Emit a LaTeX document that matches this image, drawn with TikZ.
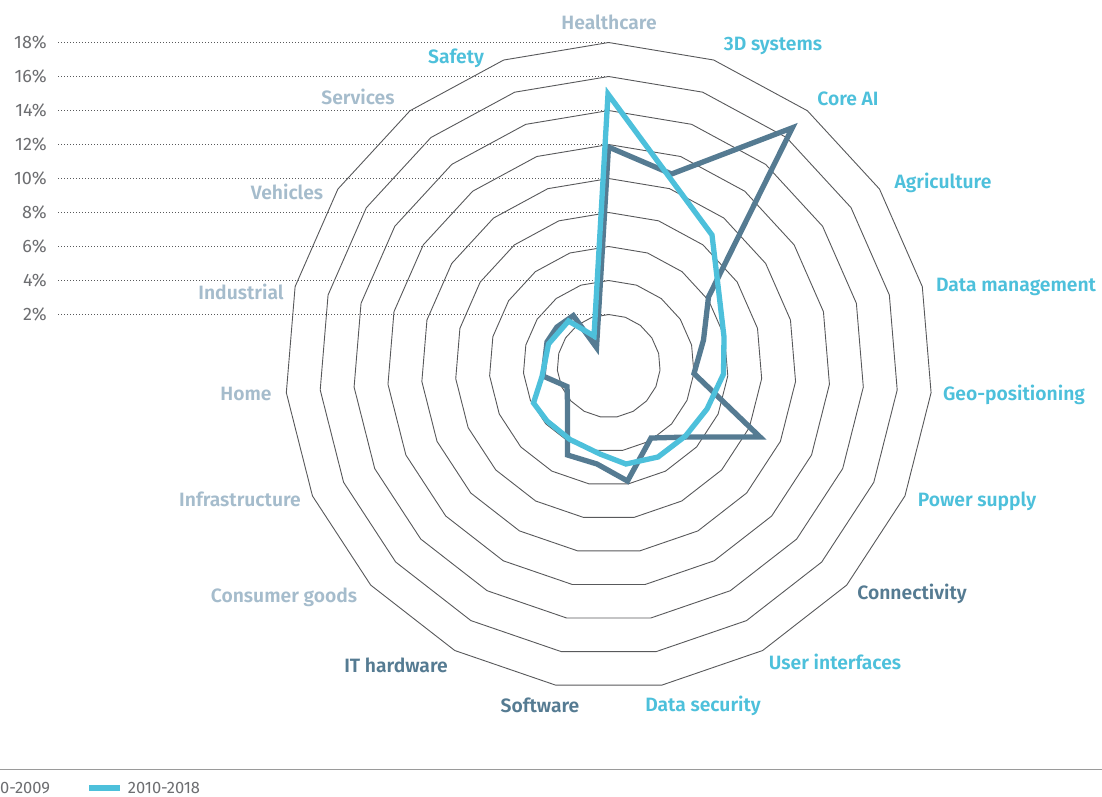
\documentclass[tikz,border=0pt]{standalone}
\usepackage{fontspec}
\setmainfont{Fira Sans}[BoldFont={Fira Sans SemiBold}]
\definecolor{dk}{HTML}{557B92}
\definecolor{lt}{HTML}{4DC0DB}
\definecolor{gb}{HTML}{A5BCCC}
\definecolor{axc}{HTML}{6D6E71}
\definecolor{ringc}{HTML}{58595B}
\definecolor{legc}{HTML}{9A9A9A}
\tikzset{
  ringline/.style={draw=ringc, line width=0.9pt},
  dotline/.style={draw=ringc, line width=0.9pt, dash pattern=on 0.9pt off 2.1pt},
  axlabel/.style={text=axc, anchor=base east, inner sep=0pt, font=\fontsize{18}{20}\selectfont},
  catlabel/.style={anchor=base, inner sep=0pt, font=\fontsize{19.3}{22}\selectfont\bfseries},
  darkline/.style={draw=dk, line width=5.3pt, line join=miter},
  lightline/.style={draw=lt, line width=5.3pt, line join=miter},
  legtext/.style={text=axc, anchor=base west, inner sep=0pt, font=\fontsize{16.5}{18}\selectfont},
}
\begin{document}
\begin{tikzpicture}[x=1pt, y=-1pt]
\useasboundingbox (0,0) rectangle (1102,796);
\fill[white] (0,0) rectangle (1102,796);
% dotted guide lines and axis labels
\foreach \k in {1,...,9}{
  \pgfmathsetmacro\yy{366-17.5-34*\k}
  \pgfmathtruncatemacro\pc{2*\k}
  \draw[dotline] (58,\yy) -- (608.7,\yy);
  \node[axlabel] (ax\k) at (47,\yy+6.3) {\pc\%};
}
% rings (19-gons)
\foreach \k in {1,...,9}{
  \pgfmathsetmacro\R{17.5+34*\k}
  \draw[ringline] (608.7,{366-\R})
    \foreach \j in {1,...,18}{ -- ({608.7+\R*cos(90-\j*360/19)},{366-\R*sin(90-\j*360/19)}) } -- cycle;
}
% series 2000-2009
\draw[darkline] (608.5,147) -- (671.5,174) -- (792.3,127.8) -- (708.5,297) -- (703.5,340)
  -- (694,373.5) -- (760,437) -- (689,437) -- (651,438) -- (627.5,481) -- (597,464)
  -- (567.5,455) -- (567.5,403) -- (567,386.5) -- (543,376) -- (547,342) -- (557,327)
  -- (573.3,315.6) -- (596.5,347.5) -- cycle;
% series 2010-2018
\draw[lightline] (608,94) -- (712,235) -- (719,294) -- (724,337) -- (723.5,374)
  -- (707,409) -- (685.5,436) -- (658,457) -- (626,464) -- (600,454) -- (570,439.5)
  -- (547,421) -- (533.5,403) -- (542,376.5) -- (548.5,344) -- (558,333)
  -- (568.5,321) -- (594,336) -- cycle;
% category labels
\node[catlabel, text=gb] (healthcare) at (609,29) {Healthcare};
\node[catlabel, text=lt] (d3) at (773,50) {3D systems};
\node[catlabel, text=lt] (coreai) at (848,105) {Core AI};
\node[catlabel, text=lt] (agri) at (943,188) {Agriculture};
\node[catlabel, text=lt] (datam) at (1016,291) {Data management};
\node[catlabel, text=lt] (geo) at (1014,400) {Geo-positioning};
\node[catlabel, text=lt] (power) at (977,506) {Power supply};
\node[catlabel, text=dk] (conn) at (912,599) {Connectivity};
\node[catlabel, text=lt] (ui) at (835,669) {User interfaces};
\node[catlabel, text=lt] (dsec) at (703,711) {Data security};
\node[catlabel, text=dk] (soft) at (540,712) {Software};
\node[catlabel, text=dk] (ith) at (396,672) {IT hardware};
\node[catlabel, text=gb] (cons) at (284,602) {Consumer goods};
\node[catlabel, text=gb] (infra) at (240,506) {Infrastructure};
\node[catlabel, text=gb] (home) at (246,400) {Home};
\node[catlabel, text=gb] (indus) at (241,299) {Industrial};
\node[catlabel, text=gb] (veh) at (287,199) {Vehicles};
\node[catlabel, text=gb] (serv) at (358,104) {Services};
\node[catlabel, text=lt] (safety) at (456,63) {Safety};
% legend
\draw[draw=legc, line width=1.3pt] (0,769.3) -- (1102,769.3);
\node[legtext] (leg1) at (0,793.3) {0-2009};
\draw[draw=lt, line width=5.7pt] (89,788) -- (120,788);
\node[legtext] (leg2) at (127.7,793.3) {2010-2018};
\end{tikzpicture}
\end{document}
